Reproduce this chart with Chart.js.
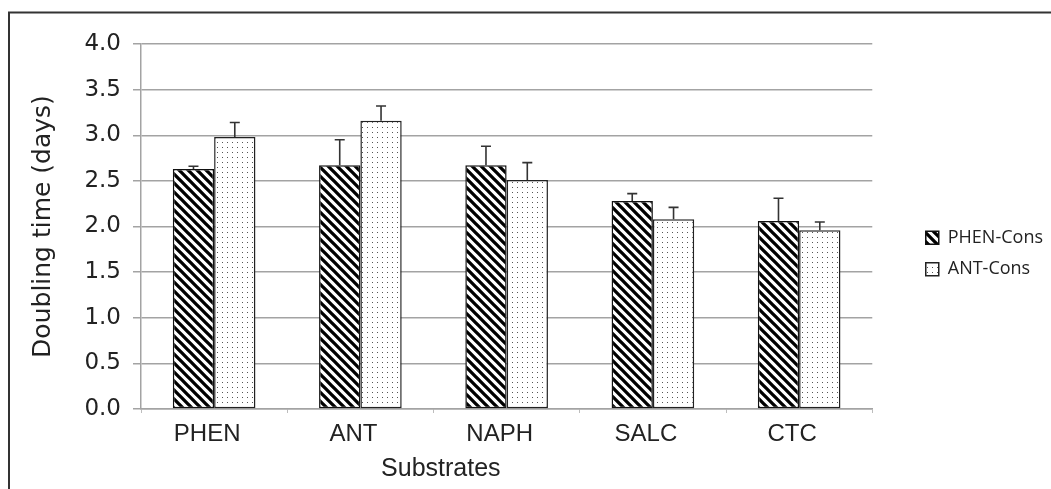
<!DOCTYPE html>
<html><head><meta charset="utf-8">
<script src="https://cdn.jsdelivr.net/npm/chart.js@4.4.0/dist/chart.umd.min.js"></script>
<style>html,body{margin:0;padding:0;background:#fff;overflow:hidden}#wrap{width:1051px;height:489px;position:relative}</style>
</head><body><div id="wrap"><canvas id="c" width="1051" height="489"></canvas></div>
<script>
const categories = ['PHEN', 'ANT', 'NAPH', 'SALC', 'CTC'];
const seriesNames = ['PHEN-Cons', 'ANT-Cons'];
const phenCons = [2.63, 2.67, 2.67, 2.28, 2.06];
const phenConsErr = [0.03, 0.28, 0.21, 0.08, 0.25];
const antCons = [2.98, 3.16, 2.51, 2.08, 1.96];
const antConsErr = [0.16, 0.16, 0.19, 0.13, 0.09];
const yTickLabels = ['0.0', '0.5', '1.0', '1.5', '2.0', '2.5', '3.0', '3.5', '4.0'];
const xTitle = 'Substrates';
const yTitle = 'Doubling time (days)';

function makeHatch() {
  const s = 9, c = document.createElement('canvas');
  c.width = s; c.height = s;
  const g = c.getContext('2d');
  g.fillStyle = '#fff'; g.fillRect(0, 0, s, s);
  g.strokeStyle = '#000'; g.lineWidth = 3.3;
  g.beginPath();
  for (const k of [-s, 0, s]) { g.moveTo(-2, -2 + k); g.lineTo(s + 2, s + 2 + k); }
  g.stroke();
  return g.createPattern(c, 'repeat');
}
function makeDots() {
  const c = document.createElement('canvas');
  c.width = 5; c.height = 5;
  const g = c.getContext('2d');
  g.fillStyle = '#fff'; g.fillRect(0, 0, 5, 5);
  g.fillStyle = '#555';
  g.fillRect(2, 2, 1, 1);
  return g.createPattern(c, 'repeat');
}

const errorBars = {
  id: 'errorBars',
  afterDatasetsDraw(chart) {
    const ctx = chart.ctx, ys = chart.scales.y;
    chart.data.datasets.forEach((ds, i) => {
      const meta = chart.getDatasetMeta(i);
      meta.data.forEach((bar, j) => {
        const top = ys.getPixelForValue(ds.data[j] + ds.errors[j]);
        ctx.save();
        ctx.strokeStyle = '#333'; ctx.lineWidth = 1.6;
        ctx.beginPath();
        ctx.moveTo(bar.x, bar.y); ctx.lineTo(bar.x, top);
        ctx.moveTo(bar.x - 5, top); ctx.lineTo(bar.x + 5, top);
        ctx.stroke();
        ctx.restore();
      });
    });
  }
};

const frameAndTitle = {
  id: 'frameAndTitle',
  beforeDraw(chart) {
    const ctx = chart.ctx;
    ctx.save(); ctx.fillStyle = '#fff'; ctx.fillRect(0, 0, chart.width, chart.height); ctx.restore();
  },
  afterDraw(chart) {
    const ctx = chart.ctx, xs = chart.scales.x;
    ctx.save();
    ctx.font = '25px "Liberation Sans"';
    ctx.fillStyle = '#222'; ctx.textAlign = 'center'; ctx.textBaseline = 'middle';
    ctx.fillText(xTitle, xs.getPixelForValue(1.55), xs.bottom + 24);
    ctx.strokeStyle = '#333'; ctx.lineWidth = 2;
    ctx.beginPath();
    ctx.moveTo(9, chart.height); ctx.lineTo(9, 12.5); ctx.lineTo(chart.width, 12.5);
    ctx.stroke();
    ctx.restore();
  }
};

new Chart(document.getElementById('c'), {
  type: 'bar',
  data: {
    labels: categories,
    datasets: [
      { label: seriesNames[0], data: phenCons, errors: phenConsErr, backgroundColor: makeHatch(),
        borderColor: '#111', borderWidth: 1.5, borderSkipped: false,
        categoryPercentage: 0.565, barPercentage: 1.0 },
      { label: seriesNames[1], data: antCons, errors: antConsErr, backgroundColor: makeDots(),
        borderColor: '#222', borderWidth: 1.5, borderSkipped: false,
        categoryPercentage: 0.565, barPercentage: 1.0 }
    ]
  },
  options: {
    responsive: false, animation: false, devicePixelRatio: 1,
    layout: { padding: { left: 20, top: 44, right: -2, bottom: 44 } },
    plugins: {
      tooltip: { enabled: false },
      legend: {
        position: 'right', align: 'center',
        title: { display: true, text: '', font: { size: 10, lineHeight: 1.2 }, padding: { top: 3, bottom: 3 } },
        labels: { font: { family: '"Open Sans"', size: 18 }, color: '#222', boxWidth: 13, boxHeight: 13, padding: 13.5 }
      }
    },
    scales: {
      x: {
        grid: { display: true, drawOnChartArea: false, drawTicks: true, tickLength: 4, color: '#bdbdbd', offset: true },
        border: { color: '#a3a3a3', width: 1.5 },
        ticks: { font: { family: '"Liberation Sans"', size: 24 }, color: '#222', padding: 7, labelOffset: -7 },
        afterFit: s => { s.height = 36; }
      },
      y: {
        min: 0, max: 4, position: 'left',
        ticks: { stepSize: 0.5, font: { family: '"DejaVu Sans"', size: 23 }, color: '#222', padding: 12,
                 callback: (v, i) => yTickLabels[i] },
        grid: { color: '#a3a3a3', lineWidth: 1.5, tickLength: 8, drawTicks: true },
        border: { color: '#a3a3a3', width: 1.5 },
        title: { display: true, text: yTitle, font: { family: '"DejaVu Sans"', size: 25 }, color: '#222', padding: { top: 8, bottom: 10 } },
        afterFit: s => { s.width = 121; }
      },
      y2: {
        position: 'right', display: true,
        ticks: { display: false }, grid: { display: false, drawTicks: false }, border: { display: false },
        afterFit: s => { s.width = 40; }
      }
    }
  },
  plugins: [errorBars, frameAndTitle]
});
</script>
</body></html>
